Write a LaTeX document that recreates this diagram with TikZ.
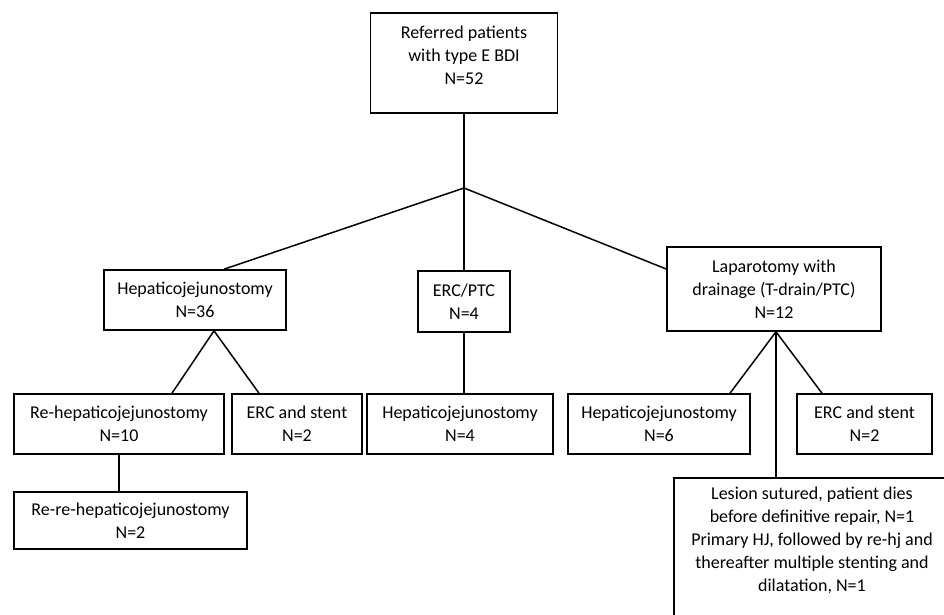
\documentclass[tikz,border=0pt]{standalone}
\usepackage{fontspec}
\setmainfont{Carlito}
\usetikzlibrary{calc}
\begin{document}
\begin{tikzpicture}[x=1pt,y=-1pt,
  box/.style={draw=black,line width=1.6pt,rectangle,inner sep=0pt,align=center,
    font=\fontsize{18}{23}\selectfont},
  txt/.style={inner sep=0pt,align=center,font=\fontsize{18}{23}\selectfont},
  conn/.style={line width=1.5pt,draw=black}]
\useasboundingbox (0,0) rectangle (944,615);
\clip (0,0) rectangle (944,615);
% level 1
\node[box,minimum width=187pt,minimum height=100pt] (top) at (464,63) {};
\node[txt] (toptxt) at (464,55) {Referred patients\\with type E BDI\\N=52};
% level 2
\node[box,minimum width=182pt,minimum height=60pt] (hj) at (195,300) {Hepaticojejunostomy\\N=36};
\node[box,minimum width=92pt,minimum height=61pt] (erc) at (464,301.5) {ERC/PTC\\N=4};
\node[box,minimum width=214pt,minimum height=84pt] (lap) at (774,289) {Laparotomy with\\drainage (T-drain/PTC)\\N=12};
% level 3
\node[box,minimum width=210pt,minimum height=60pt] (rehj) at (119,424) {Re-hepaticojejunostomy\\N=10};
\node[box,minimum width=130pt,minimum height=60pt] (ercsA) at (297,424) {ERC and stent\\N=2};
\node[box,minimum width=186pt,minimum height=60pt] (hjB) at (460,424) {Hepaticojejunostomy\\N=4};
\node[box,minimum width=182pt,minimum height=60pt] (hjC) at (659,424) {Hepaticojejunostomy\\N=6};
\node[box,minimum width=135pt,minimum height=60pt] (ercsB) at (864.5,424) {ERC and stent\\N=2};
% level 4
\node[box,minimum width=233pt,minimum height=57pt] (rerehj) at (130.5,520.5) {Re-re-hepaticojejunostomy\\N=2};
\node[box,minimum width=276pt,minimum height=162pt] (lesion) at (812,559) {};
\node[txt] (lestxt) at (812,540) {Lesion sutured, patient dies\\before definitive repair, N=1\\Primary HJ, followed by re-hj and\\thereafter multiple stenting and\\dilatation, N=1};
% connectors
\coordinate (j) at (464,188);
\draw[conn] (top.south) -- (j);
\draw[conn] (j) -- ($(hj.north)+(29,0)$);
\draw[conn] (j) -- (erc.north);
\draw[conn] (j) -- ($(lap.west)+(0,-20)$);
\draw[conn] ($(hj.south)+(19,0)$) -- ($(rehj.north)+(53,0)$);
\draw[conn] ($(hj.south)+(19,0)$) -- ($(ercsA.north)+(-38,0)$);
\draw[conn] (erc.south) -- (hjB.north -| erc.south);
\draw[conn] ($(lap.south)+(2,0)$) -- ($(hjC.north)+(71,0)$);
\draw[conn] ($(lap.south)+(2,0)$) -- ($(ercsB.north)+(-42.5,0)$);
\draw[conn] ($(lap.south)+(2,0)$) -- ($(lesion.north)+(-36,0)$);
\draw[conn] (rehj.south) -- (rerehj.north -| rehj.south);
\end{tikzpicture}
\end{document}
